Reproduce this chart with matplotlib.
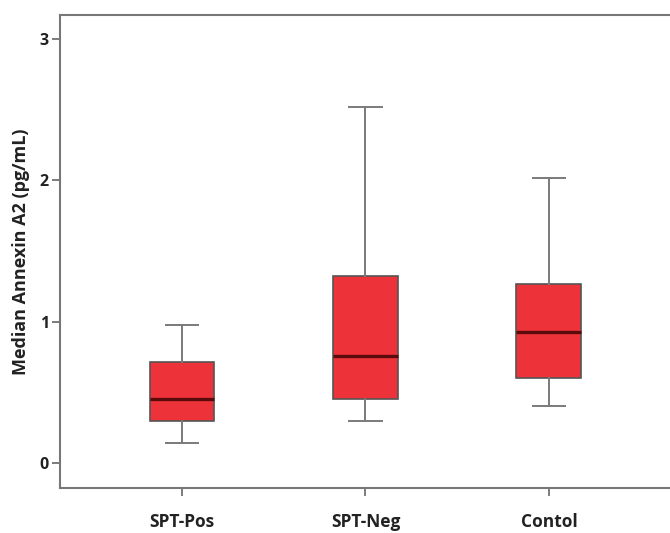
import matplotlib
matplotlib.use("Agg")
import matplotlib.pyplot as plt

groups = ["SPT-Pos", "SPT-Neg", "Contol"]
whislo = [0.14, 0.30, 0.40]
q1 = [0.30, 0.45, 0.60]
med = [0.45, 0.76, 0.93]
q3 = [0.715, 1.32, 1.27]
whishi = [0.98, 2.52, 2.02]

plt.rcParams['font.family'] = ['Open Sans', 'DejaVu Sans']

fig = plt.figure(figsize=(6.7, 5.33), dpi=100)
ax = fig.add_axes([0.0896, 0.0844, 0.9104, 0.8874])

stats = []
for i in range(len(groups)):
    stats.append({"label": groups[i], "whislo": whislo[i], "q1": q1[i],
                  "med": med[i], "q3": q3[i], "whishi": whishi[i], "fliers": []})

ax.bxp(stats, positions=[1, 2, 3], widths=0.354, patch_artist=True, showfliers=False,
       boxprops=dict(facecolor="#ee3239", edgecolor="#555555", linewidth=1.2),
       medianprops=dict(color="#5a0c0c", linewidth=2.4),
       whiskerprops=dict(color="#7a7a7a", linewidth=1.4),
       capprops=dict(color="#7a7a7a", linewidth=1.4),
       capwidths=0.175)

ax.set_xlim(0.335, 3.66)
ax.set_ylim(-0.177, 3.17)
ax.set_yticks([0, 1, 2, 3])
ax.set_yticklabels(["0", "1", "2", "3"], fontweight="bold", fontsize=11.5, color="#222222")
ax.set_xticklabels(groups, fontweight="bold", fontsize=12.5, color="#222222")
ax.tick_params(axis="x", length=6, width=1.2, color="#666666", pad=12)
ax.tick_params(axis="y", length=6, width=1.2, color="#666666", pad=2)
ax.spines["right"].set_visible(False)
for s in ["left", "bottom", "top"]:
    ax.spines[s].set_color("#777777")
    ax.spines[s].set_linewidth(1.5)
ax.set_ylabel("Median Annexin A2 (pg/mL)", fontweight="bold", fontsize=13, color="#222222", labelpad=7)

fig.savefig("out.png", dpi=100)
